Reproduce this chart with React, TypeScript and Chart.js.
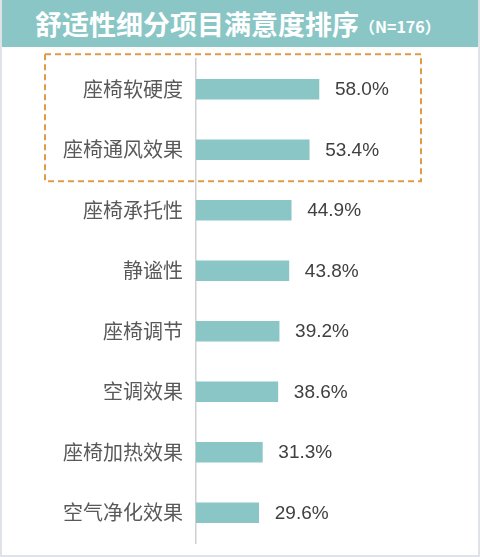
import { useRef, useEffect } from 'react';
import { Chart, registerables } from 'chart.js';

Chart.register(...registerables);

// satisfaction items, sorted high to low
const categories = ['座椅软硬度', '座椅通风效果', '座椅承托性', '静谧性', '座椅调节', '空调效果', '座椅加热效果', '空气净化效果'];
const values = [58.0, 53.4, 44.9, 43.8, 39.2, 38.6, 31.3, 29.6];
const highlighted = [0, 1];

const barLabels = {
    id: 'barLabels',
    afterDatasetsDraw(chart) {
        const { ctx } = chart;
        const meta = chart.getDatasetMeta(0);
        ctx.save();
        ctx.font = '19px "Liberation Sans", Arial, sans-serif';
        ctx.fillStyle = '#404040';
        ctx.textAlign = 'left';
        ctx.textBaseline = 'middle';
        meta.data.forEach((bar, i) => {
            ctx.fillText(values[i].toFixed(1) + '%', bar.x + 16, bar.y + 1);
        });
        ctx.restore();
    }
};

const dashedBox = {
    id: 'dashedBox',
    afterDraw(chart) {
        const { ctx, chartArea, scales } = chart;
        const y = scales.y;
        const step = y.getPixelForTick(1) - y.getPixelForTick(0);
        const top = y.getPixelForTick(highlighted[0]) - step * 0.58;
        const bottom = y.getPixelForTick(highlighted[highlighted.length - 1]) + step * 0.52;
        const left = chartArea.left - 151;
        const right = chartArea.left + 225;
        ctx.save();
        ctx.strokeStyle = '#E09A48';
        ctx.lineWidth = 2;
        ctx.setLineDash([6, 4]);
        ctx.strokeRect(left, top, right - left, bottom - top);
        ctx.restore();
    }
};

const ComfortChart = () => {
    const canvasRef = useRef(null);
    const chartRef = useRef(null);

    useEffect(() => {
        if (!canvasRef.current) return;
        if (chartRef.current) chartRef.current.destroy();

        chartRef.current = new Chart(canvasRef.current, {
            type: 'bar',
            data: {
                labels: categories,
                datasets: [{
                    data: values,
                    backgroundColor: '#89C6C5',
                    barThickness: 20
                }]
            },
            options: {
                indexAxis: 'y',
                responsive: true,
                maintainAspectRatio: false,
                animation: false,
                layout: { padding: { top: 12, bottom: 12, left: 0, right: 70 } },
                plugins: {
                    legend: { display: false },
                    tooltip: { enabled: false }
                },
                scales: {
                    x: { display: false, min: 0, max: 100 },
                    y: {
                        grid: { display: false, drawTicks: false },
                        border: { display: true, color: '#cfcfcf', width: 1.5 },
                        ticks: {
                            color: '#595959',
                            padding: 13,
                            font: { size: 20, family: '"Noto Sans CJK SC", sans-serif' }
                        },
                        afterFit(scale) {
                            scale.width = 194;
                            scale.paddingTop = 0;
                            scale.paddingBottom = 0;
                        }
                    }
                }
            },
            plugins: [barLabels, dashedBox]
        });

        return () => { if (chartRef.current) chartRef.current.destroy(); };
    }, []);

    return (
        <div style={{ position: 'relative', width: 476, height: 508 }}>
            <canvas ref={canvasRef}></canvas>
        </div>
    );
};

export default function App() {
    return (
        <div style={{
            position: 'absolute', left: 0, top: 0, width: 480, height: 557, boxSizing: 'border-box',
            background: '#fff', borderLeft: '2px solid #dfe3e7', borderRight: '2px solid #dfe3e7', borderBottom: '2px solid #dfe3e7'
        }}>
            <div style={{
                height: 47, background: '#89C6C5', color: '#fff', display: 'flex', alignItems: 'center',
                paddingLeft: 33, fontFamily: '"Noto Sans CJK SC", sans-serif', fontWeight: 'bold'
            }}>
                <span style={{ fontSize: 27 }}>舒适性细分项目满意度排序</span>
                <span style={{ fontSize: 16, marginTop: 5 }}>（N=176）</span>
            </div>
            <ComfortChart />
        </div>
    );
}
